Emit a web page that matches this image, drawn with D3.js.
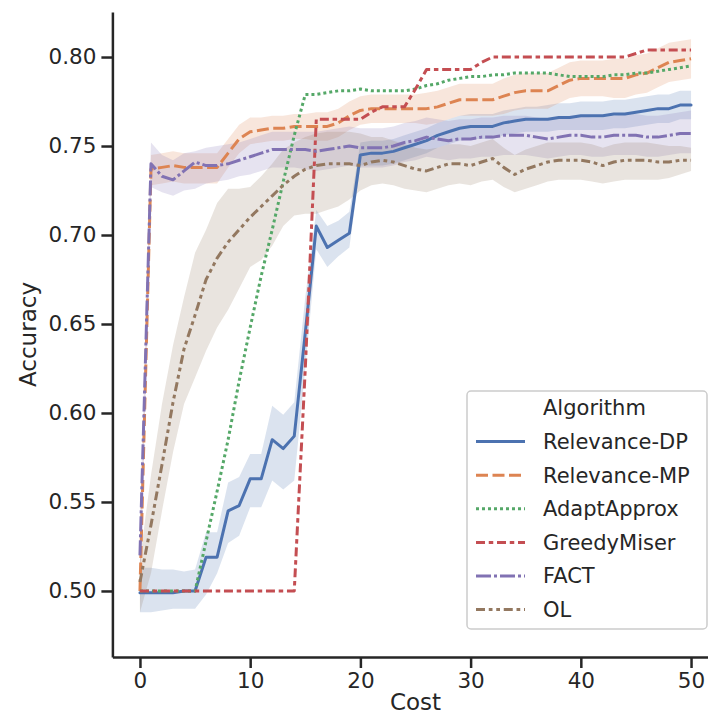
<!DOCTYPE html>
<html><head><meta charset="utf-8">
<script src="https://cdn.jsdelivr.net/npm/d3@7"></script>
<style>
html,body{margin:0;padding:0;background:#fff;}
text{font-family:"DejaVu Sans",sans-serif;fill:#262626;}
</style></head>
<body>
<svg id="chart" width="708" height="714"></svg>
<script>
const cost = [0,1,2,3,4,5,6,7,8,9,10,11,12,13,14,15,16,17,18,19,20,21,22,23,24,25,26,27,28,29,30,31,32,33,34,35,36,37,38,39,40,41,42,43,44,45,46,47,48,49,50];
const algorithms = ["Relevance-DP","Relevance-MP","AdaptApprox","GreedyMiser","FACT","OL"];
const xTicks = [0,10,20,30,40,50];
const yTicks = [0.50,0.55,0.60,0.65,0.70,0.75,0.80];

const dpMean = [0.499,0.499,0.499,0.499,0.500,0.500,0.519,0.519,0.545,0.548,0.563,0.563,0.585,0.580,0.587,0.645,0.705,0.693,0.697,0.701,0.745,0.746,0.746,0.747,0.749,0.751,0.753,0.756,0.758,0.760,0.761,0.761,0.761,0.763,0.764,0.765,0.765,0.765,0.766,0.766,0.767,0.767,0.767,0.768,0.768,0.769,0.770,0.771,0.771,0.773,0.773];
const dpLow  = [0.488,0.488,0.489,0.490,0.490,0.490,0.498,0.510,0.527,0.531,0.547,0.547,0.562,0.557,0.562,0.625,0.692,0.682,0.688,0.693,0.739,0.739,0.739,0.740,0.742,0.744,0.746,0.749,0.751,0.753,0.754,0.754,0.754,0.756,0.757,0.758,0.758,0.758,0.759,0.759,0.759,0.759,0.759,0.760,0.760,0.761,0.762,0.763,0.763,0.765,0.765];
const dpHigh = [0.513,0.513,0.512,0.512,0.511,0.512,0.533,0.533,0.561,0.564,0.577,0.577,0.604,0.599,0.606,0.665,0.714,0.705,0.708,0.713,0.752,0.753,0.753,0.754,0.756,0.758,0.760,0.763,0.765,0.767,0.768,0.768,0.768,0.770,0.771,0.772,0.772,0.773,0.774,0.774,0.775,0.775,0.775,0.776,0.776,0.777,0.778,0.779,0.779,0.781,0.781];

const mpMean = [0.500,0.737,0.738,0.739,0.738,0.738,0.738,0.738,0.746,0.754,0.758,0.759,0.760,0.760,0.761,0.761,0.761,0.761,0.763,0.767,0.770,0.771,0.771,0.771,0.771,0.771,0.771,0.772,0.774,0.776,0.776,0.776,0.776,0.778,0.780,0.781,0.781,0.781,0.784,0.787,0.788,0.788,0.788,0.788,0.788,0.790,0.791,0.794,0.797,0.798,0.799];
const mpLow  = [0.490,0.728,0.729,0.730,0.729,0.729,0.729,0.729,0.738,0.746,0.751,0.752,0.753,0.753,0.754,0.754,0.753,0.753,0.755,0.759,0.762,0.763,0.763,0.763,0.763,0.763,0.762,0.763,0.765,0.767,0.767,0.767,0.767,0.768,0.770,0.771,0.771,0.771,0.774,0.777,0.778,0.778,0.778,0.777,0.777,0.779,0.780,0.783,0.786,0.787,0.788];
const mpHigh = [0.510,0.745,0.746,0.747,0.746,0.746,0.746,0.746,0.754,0.762,0.766,0.766,0.767,0.767,0.768,0.768,0.769,0.769,0.771,0.775,0.778,0.779,0.779,0.779,0.779,0.779,0.780,0.781,0.783,0.785,0.785,0.785,0.785,0.788,0.790,0.791,0.791,0.791,0.794,0.797,0.798,0.798,0.798,0.799,0.799,0.801,0.802,0.805,0.808,0.809,0.810];

const aaMean = [0.500,0.500,0.500,0.500,0.500,0.500,0.528,0.556,0.585,0.618,0.648,0.677,0.703,0.730,0.756,0.779,0.779,0.780,0.781,0.781,0.782,0.781,0.781,0.781,0.781,0.782,0.784,0.785,0.787,0.788,0.789,0.789,0.790,0.790,0.791,0.791,0.791,0.791,0.790,0.789,0.789,0.789,0.789,0.790,0.790,0.791,0.791,0.792,0.793,0.794,0.795];

const gmMean = [0.500,0.500,0.500,0.500,0.500,0.500,0.500,0.500,0.500,0.500,0.500,0.500,0.500,0.500,0.500,0.625,0.765,0.765,0.765,0.765,0.765,0.769,0.772,0.772,0.772,0.782,0.793,0.793,0.793,0.793,0.793,0.797,0.800,0.800,0.800,0.800,0.800,0.800,0.800,0.800,0.800,0.800,0.800,0.800,0.800,0.802,0.804,0.804,0.804,0.804,0.804];

const factMean = [0.520,0.740,0.733,0.731,0.736,0.741,0.739,0.739,0.740,0.742,0.744,0.746,0.748,0.748,0.748,0.748,0.747,0.748,0.749,0.750,0.749,0.749,0.749,0.750,0.752,0.753,0.755,0.754,0.753,0.754,0.754,0.755,0.755,0.756,0.756,0.756,0.755,0.754,0.755,0.756,0.756,0.755,0.755,0.756,0.756,0.756,0.755,0.755,0.756,0.757,0.757];
const factLow  = [0.500,0.727,0.724,0.722,0.725,0.726,0.729,0.730,0.731,0.733,0.734,0.736,0.738,0.738,0.738,0.737,0.736,0.737,0.738,0.739,0.738,0.738,0.738,0.739,0.741,0.742,0.744,0.743,0.742,0.743,0.743,0.744,0.744,0.745,0.745,0.745,0.744,0.743,0.744,0.745,0.745,0.744,0.744,0.745,0.745,0.745,0.744,0.744,0.745,0.746,0.746];
const factHigh = [0.540,0.752,0.745,0.742,0.746,0.747,0.749,0.750,0.751,0.752,0.754,0.756,0.758,0.758,0.758,0.758,0.758,0.759,0.760,0.761,0.760,0.760,0.760,0.761,0.763,0.764,0.766,0.765,0.764,0.765,0.765,0.766,0.766,0.767,0.767,0.767,0.766,0.765,0.766,0.767,0.767,0.766,0.766,0.767,0.768,0.768,0.767,0.767,0.768,0.769,0.770];

const olMean = [0.505,0.537,0.571,0.606,0.636,0.655,0.675,0.687,0.696,0.703,0.710,0.716,0.722,0.728,0.733,0.737,0.739,0.740,0.740,0.740,0.739,0.741,0.742,0.741,0.739,0.737,0.736,0.738,0.740,0.740,0.739,0.741,0.743,0.738,0.734,0.737,0.739,0.741,0.742,0.742,0.742,0.741,0.739,0.741,0.742,0.742,0.742,0.741,0.741,0.742,0.742];
const olLow  = [0.488,0.510,0.545,0.578,0.605,0.620,0.635,0.648,0.658,0.670,0.682,0.686,0.694,0.705,0.711,0.712,0.712,0.714,0.716,0.720,0.725,0.728,0.729,0.728,0.726,0.725,0.724,0.726,0.728,0.729,0.728,0.730,0.731,0.727,0.724,0.726,0.728,0.730,0.731,0.731,0.731,0.730,0.729,0.730,0.731,0.731,0.731,0.731,0.732,0.734,0.736];
const olHigh = [0.518,0.565,0.605,0.638,0.665,0.690,0.703,0.718,0.726,0.726,0.727,0.733,0.740,0.748,0.752,0.755,0.757,0.758,0.758,0.758,0.757,0.755,0.755,0.753,0.751,0.749,0.748,0.749,0.751,0.751,0.750,0.752,0.754,0.749,0.745,0.748,0.750,0.752,0.752,0.752,0.752,0.751,0.749,0.751,0.752,0.752,0.752,0.751,0.750,0.750,0.749];

const colors = ["#4C72B0","#DD8452","#55A868","#C44E52","#8172B3","#937860"];
const lw = 3;
const dashUnits = [null,[4,1.5],[1,1],[3,1.25,1.5,1.25],[5,1,1,1],[3,1.25,1.25,1.25,1.25,1.25]];

const series = [
  {name: algorithms[0], mean: dpMean, lo: dpLow, hi: dpHigh},
  {name: algorithms[1], mean: mpMean, lo: mpLow, hi: mpHigh},
  {name: algorithms[2], mean: aaMean, lo: null, hi: null},
  {name: algorithms[3], mean: gmMean, lo: null, hi: null},
  {name: algorithms[4], mean: factMean, lo: factLow, hi: factHigh},
  {name: algorithms[5], mean: olMean, lo: olLow, hi: olHigh}
];

const svg = d3.select("#chart");
const x = d3.scaleLinear().domain([-2.5, 52.5]).range([112.4, 718.6]);
const y = d3.scaleLinear().domain([0.4629, 0.8253]).range([657, 12]);

// bands
series.forEach((s, i) => {
  if (!s.lo) return;
  const area = d3.area().x((d, j) => x(cost[j])).y0((d, j) => y(s.lo[j])).y1((d, j) => y(s.hi[j]));
  svg.append("path").datum(s.mean).attr("d", area)
    .attr("fill", colors[i]).attr("fill-opacity", 0.2).attr("stroke", "none");
});

// lines
series.forEach((s, i) => {
  const line = d3.line().x((d, j) => x(cost[j])).y(d => y(d));
  const p = svg.append("path").datum(s.mean).attr("d", line)
    .attr("fill", "none").attr("stroke", colors[i]).attr("stroke-width", lw)
    .attr("stroke-linejoin", "round").attr("stroke-linecap", dashUnits[i] ? "butt" : "round");
  if (dashUnits[i]) p.attr("stroke-dasharray", dashUnits[i].map(v => v * lw).join(","));
});

// axes
const gx = svg.append("g").attr("transform", "translate(0,657)")
  .call(d3.axisBottom(x).tickValues(xTicks).tickSize(11).tickSizeOuter(0).tickPadding(5).tickFormat(d3.format("d")));
const gy = svg.append("g").attr("transform", "translate(112.4,0)")
  .call(d3.axisLeft(y).tickValues(yTicks).tickSize(11).tickSizeOuter(0).tickPadding(5).tickFormat(d3.format(".2f")));
[gx, gy].forEach(g => {
  g.select(".domain").attr("stroke", "#262626").attr("stroke-width", 2.5);
  g.selectAll(".tick line").attr("stroke", "#262626").attr("stroke-width", 2.5);
  g.selectAll(".tick text").attr("font-size", 21.5).attr("fill", "#262626")
    .style("font-family", '"DejaVu Sans", sans-serif');
});

svg.append("text").attr("x", 415.5).attr("y", 710).attr("text-anchor", "middle")
  .attr("font-size", 23).text("Cost");
svg.append("text").attr("transform", "translate(36,334.5) rotate(-90)").attr("text-anchor", "middle")
  .attr("font-size", 23).text("Accuracy");

// legend
const leg = svg.append("g");
leg.append("rect").attr("x", 467).attr("y", 391).attr("width", 240).attr("height", 238)
  .attr("rx", 4).attr("fill", "#fff").attr("fill-opacity", 0.8).attr("stroke", "#cccccc").attr("stroke-width", 1.5);
const rowY0 = 408, rowH = 33.6;
leg.append("text").attr("x", 543).attr("y", rowY0).attr("dy", "0.35em").attr("font-size", 21).text("Algorithm");
algorithms.forEach((a, i) => {
  const yy = rowY0 + rowH * (i + 1);
  const l = leg.append("line").attr("x1", 476).attr("x2", 525).attr("y1", yy).attr("y2", yy)
    .attr("stroke", colors[i]).attr("stroke-width", lw);
  if (dashUnits[i]) l.attr("stroke-dasharray", dashUnits[i].map(v => v * lw).join(","));
  leg.append("text").attr("x", 543).attr("y", yy).attr("dy", "0.35em").attr("font-size", 21).text(a);
});
</script>
</body></html>
